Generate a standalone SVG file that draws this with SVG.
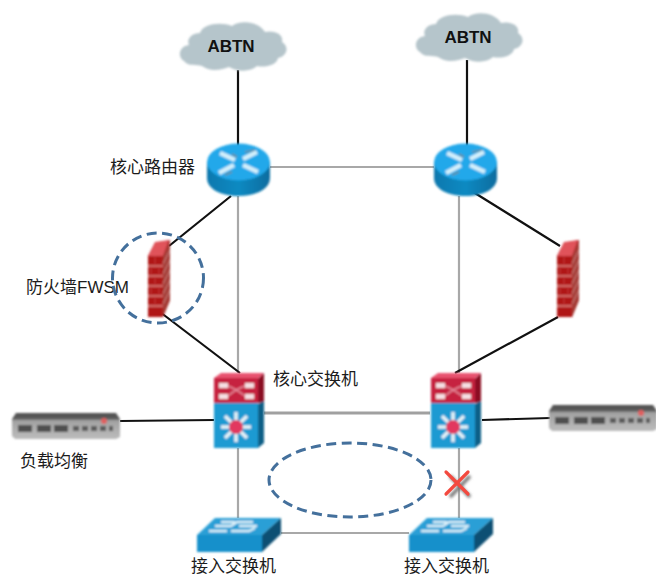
<svg xmlns="http://www.w3.org/2000/svg" width="656" height="575" viewBox="0 0 656 575">
<style>
.t{font-family:"Liberation Sans","Noto Sans CJK SC",sans-serif;font-size:17px;fill:#1c1c1c}
.a{font-family:"Liberation Sans",sans-serif;font-size:17px;font-weight:bold;fill:#111;text-anchor:middle}
.k{stroke:#111;stroke-width:2.2;fill:none}
.g{stroke:#a8a8a8;stroke-width:2.2;fill:none}
.g2{stroke:#a0a0a0;stroke-width:3.2;fill:none}
.d{fill:none;stroke:#44709c;stroke-width:3;stroke-dasharray:10 5.5}
</style>
<defs>
<filter id="b" x="-10%" y="-10%" width="120%" height="120%"><feGaussianBlur stdDeviation="0.8"/></filter>
<filter id="s" x="-30%" y="-30%" width="170%" height="170%"><feGaussianBlur stdDeviation="1.6"/></filter>
<linearGradient id="rs" x1="0" x2="1" y1="0" y2="0"><stop offset="0" stop-color="#0a78ae"/><stop offset="0.5" stop-color="#0f8ac2"/><stop offset="1" stop-color="#0a6c9f"/></linearGradient>
<linearGradient id="lb" x1="0" x2="0" y1="0" y2="1"><stop offset="0" stop-color="#4f4f4f"/><stop offset="0.22" stop-color="#5c5c5c"/><stop offset="0.3" stop-color="#a2a2a2"/><stop offset="1" stop-color="#bcbcbc"/></linearGradient>
<g id="cloud" filter="url(#b)"><path d="M10 25C0 26-2 37 5 41C9 47 18 44 23 46C32 53 44 49 50 47C58 52 72 52 78 46C86 48 98 45 99 38C109 36 110 26 103 22C105 13 93 10 86 12C79 1 61 0 53 6C43 2 24 3 21 13C13 13 7 19 10 25Z" fill="#b5c5cb"/></g>
<g id="router" filter="url(#b)">
<path d="M0 19V35C0 46 14 53 31.500 53S63 46 63 35V19Z" fill="url(#rs)"/>
<ellipse cx="31.500" cy="19" rx="31.500" ry="18.500" fill="#22a8ea"/>
<path d="M13 10L28 17M50 9L36 16M12 30L27 22M51 29L36 22" stroke="#d3effb" stroke-width="4.500"/>
<path d="M38 9L48 7M25 11L30 14M18 32L25 29" stroke="#6f8a96" stroke-width="1.500"/>
</g>
<g id="fw" filter="url(#b)">
<path d="M0 16L7 3L22 0V60L15 77H0Z" fill="#a51c1c"/>
<path d="M0 16L7 2L21 0L15 16Z" fill="#e0525a"/>
<path d="M15 16L22 0V60L15 77Z" fill="#a53a34"/>
<path d="M0 16H15V77H0Z" fill="#b01919"/>
<path d="M0 26H15M0 36H15M0 46H15M0 56H15M0 66H15" stroke="#dd8480" stroke-width="1.400"/>
<path d="M15 24L22 10M15 34L22 20M15 44L22 30M15 54L22 40M15 64L22 50" stroke="#cc8a84" stroke-width="1"/>
<path d="M7 16V26M3 26V36M11 26V36M7 36V46M3 46V56M11 46V56M7 56V66" stroke="#c84a48" stroke-width="0.800"/>
</g>
<g id="core" filter="url(#b)">
<path d="M0 5L7 0H50L44 6Z" fill="#e8536f"/>
<path d="M44 6L50 0V29L44 30Z" fill="#8b0f24"/>
<rect x="0" y="5" width="44" height="26" fill="#c6203f"/>
<rect x="5" y="10" width="9" height="5" fill="#f5dfe3"/>
<rect x="31" y="10" width="9" height="5" fill="#f5dfe3"/>
<rect x="5" y="21" width="9" height="5" fill="#f5dfe3"/>
<rect x="31" y="21" width="9" height="5" fill="#f5dfe3"/>
<path d="M14 13Q22 16 31 23M31 13Q22 16 14 23" stroke="#e58a9b" stroke-width="1.500" fill="none"/>
<path d="M44 31L50 28V70L44 75Z" fill="#0b5e86"/>
<rect x="0" y="30" width="44" height="45" fill="#1f9ad2"/>
<path d="M22 39V69M7 54H37M11 43L33 65M33 43L11 65" stroke="#e7f3f8" stroke-width="3.500"/>
<circle cx="22" cy="54" r="7" fill="#e2395f"/>
</g>
<g id="lbal" filter="url(#b)">
<path d="M4 0H104L108 6V24L104 26H3L0 23V6Z" fill="url(#lb)"/>
<rect x="6" y="12" width="14" height="7" fill="#505050"/>
<rect x="25" y="12" width="14" height="7" fill="#505050"/>
<rect x="42" y="12" width="14" height="7" fill="#505050"/>
<rect x="61" y="13" width="6" height="5" fill="#5c5c5c"/>
<rect x="70" y="13" width="6" height="5" fill="#5c5c5c"/>
<rect x="79" y="13" width="6" height="5" fill="#5c5c5c"/>
<rect x="88" y="13" width="6" height="5" fill="#5c5c5c"/>
<rect x="97" y="13" width="4" height="5" fill="#5c5c5c"/>
<circle cx="92" cy="8" r="3" fill="#e06060"/>
</g>
<g id="sw" filter="url(#b)">
<path d="M0 17L18 0H84L65 17Z" fill="#2a9fd6"/>
<path d="M65 17L84 0V16L65 34Z" fill="#0c4f73"/>
<path d="M0 17H65V34H0Z" fill="#1390cb"/>
<path d="M12 13H30M18 8H34L40 4H56M42 8H60M34 13H52L58 10M24 4H38" stroke="#dcf0f9" stroke-width="2.400" fill="none"/>
</g>
</defs>
<g id="connectors">
<path class="g" d="M238 196V373M270 167H434M459 196V373M238 448V518M459 448V518M281 533H409"/>
<path class="g2" d="M264 413H430"/>
<path class="k" d="M238 70V150M467 60V150M231 196L169 246M160 312L240 373M470 190L560 246M558 317L455 373M120 421L214 420M482 420L550 418"/>
</g>
<g id="cloud1"><use href="#cloud" transform="translate(179 20)"/><text class="a" x="231" y="52">ABTN</text></g>
<g id="cloud2"><use href="#cloud" transform="translate(415 11)"/><text class="a" x="468" y="43">ABTN</text></g>
<g id="router1"><use href="#router" transform="translate(207 143)"/><text class="t" x="110" y="173">核心路由器</text></g>
<g id="router2"><use href="#router" transform="translate(434 143)"/></g>
<g id="fw1"><use href="#fw" transform="translate(148 240)"/><text class="t" x="26" y="293">防火墙FWSM</text></g>
<g id="fw2"><use href="#fw" transform="translate(557 240)"/></g>
<g id="core1"><use href="#core" transform="translate(214 373)"/><text class="t" x="273" y="385">核心交换机</text></g>
<g id="core2"><use href="#core" transform="translate(431 373)"/></g>
<g id="lb1"><use href="#lbal" transform="translate(12 413)"/><text class="t" x="20" y="467">负载均衡</text></g>
<g id="lb2"><use href="#lbal" transform="translate(549 405)"/></g>
<g id="sw1"><use href="#sw" transform="translate(197 518)"/><text class="t" x="191" y="572">接入交换机</text></g>
<g id="sw2"><use href="#sw" transform="translate(409 518)"/><text class="t" x="404" y="572">接入交换机</text></g>
<ellipse id="ring1" class="d" cx="158" cy="278" rx="45.500" ry="45"/>
<ellipse id="ring2" class="d" cx="350" cy="480" rx="81" ry="37"/>
<g id="fail">
<path d="M447 473L467 494M467 473L447 494" stroke="#777" stroke-width="3.500" filter="url(#s)" transform="translate(3 3)"/>
<path d="M446 472L468 494M468 472L446 494" stroke="#f3493f" stroke-width="3.200" stroke-linecap="round"/>
</g>
</svg>
